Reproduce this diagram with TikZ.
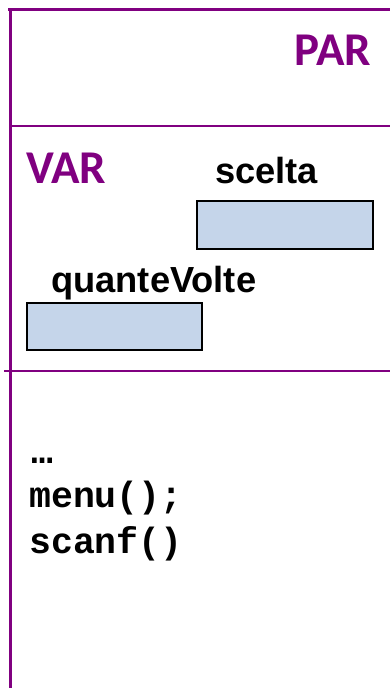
\documentclass[tikz,border=0pt]{standalone}
\usepackage{fontspec}
\newfontfamily\calibfont{Carlito}
\newfontfamily\arialfont{Liberation Sans}
\newfontfamily\courfont{Liberation Mono}
\definecolor{frame}{RGB}{128,0,128}
\definecolor{boxfill}{RGB}{197,213,234}
\tikzset{
  frameline/.style={draw=frame, line width=3pt},
  sectitle/.style={text=frame, inner sep=0pt, anchor=base west, font=\calibfont\bfseries\fontsize{47}{47}\selectfont},
  varname/.style={inner sep=0pt, anchor=base west, font=\arialfont\bfseries\fontsize{36.3}{36.3}\selectfont},
  varbox/.style={draw=black, line width=1.5pt, fill=boxfill, inner sep=0pt, anchor=north west},
  codeline/.style={inner sep=0pt, anchor=base west, font=\courfont\bfseries\fontsize{36.5}{36.5}\selectfont}
}
\begin{document}
\begin{tikzpicture}[x=1pt,y=-1pt]
\useasboundingbox (0,0) rectangle (390,688);
\fill[white] (0,0) rectangle (390,688);
% frame
\coordinate (tl) at (8,9);
\coordinate (tr) at (391,9);
\coordinate (lt) at (10,8);
\coordinate (lb) at (10,689);
\coordinate (m1l) at (10,126);
\coordinate (m1r) at (391,126);
\coordinate (m2l) at (4,371);
\coordinate (m2r) at (391,371);
\draw[frameline] (tl) -- (tr);
\draw[frameline] (lt) -- (lb);
\draw[frameline, line width=2.5pt] (m1l) -- (m1r);
\draw[frameline, line width=2.5pt] (m2l) -- (m2r);
% titles
\node[sectitle] (par) at (294,65) {PAR};
\node[sectitle] (var) at (26,183) {VAR};
% variables
\node[varname] (scelta) at (215,183) {scelta};
\node[varbox, minimum width=176pt, minimum height=48pt] (sceltabox) at (196,200) {};
\node[varname] (quante) at (51,292) {quanteVolte};
\node[varbox, minimum width=175pt, minimum height=47pt] (quantebox) at (26,302) {};
% code
\node[codeline] (dots) at (31,463) {…};
\node[codeline] (menu) at (29,507) {menu();};
\node[codeline] (scanf) at (29,553) {scanf()};
\end{tikzpicture}
\end{document}
